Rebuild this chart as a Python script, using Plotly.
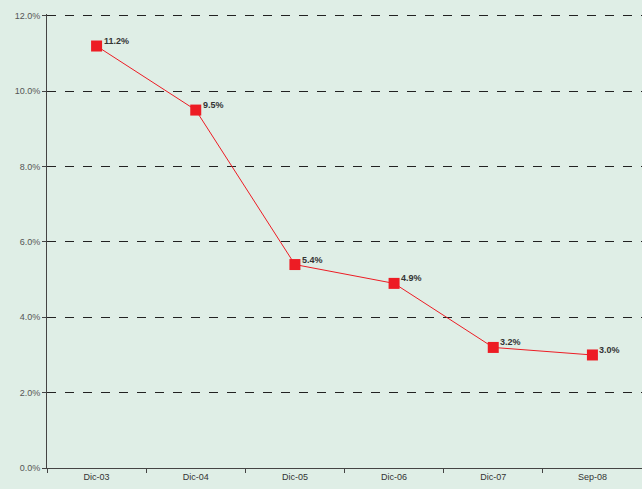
import plotly.graph_objects as go

categories = ["Dic-03", "Dic-04", "Dic-05", "Dic-06", "Dic-07", "Sep-08"]
values = [11.2, 9.5, 5.4, 4.9, 3.2, 3.0]
labels = ["11.2%", "9.5%", "5.4%", "4.9%", "3.2%", "3.0%"]
y_ticks = [0, 2, 4, 6, 8, 10, 12]
y_tick_labels = ["0.0%", "2.0%", "4.0%", "6.0%", "8.0%", "10.0%", "12.0%"]

bg = "#DFEEE6"
font_fam = "Liberation Sans Narrow, Arial Narrow, Liberation Sans, Arial"
fig = go.Figure()
fig.add_trace(go.Scatter(
    x=categories, y=values, mode="lines+markers",
    line=dict(color="#ED1C24", width=1),
    marker=dict(symbol="square", size=11, color="#ED1C24"),
    cliponaxis=False, showlegend=False, hoverinfo="skip",
))
for c, v, t in zip(categories, values, labels):
    fig.add_annotation(x=c, y=v, text="<b>" + t + "</b>", showarrow=False,
                       xanchor="left", yanchor="middle", xshift=5, yshift=5,
                       font=dict(family=font_fam, size=9, color="#333333"))
fig.update_layout(
    width=642, height=489,
    margin=dict(l=47, r=0, t=14, b=21),
    paper_bgcolor=bg, plot_bgcolor=bg,
    font=dict(family=font_fam, size=9, color="#444444"),
)
fig.update_xaxes(
    type="category", range=[-0.5, 5.5], showgrid=False,
    showline=True, linecolor="#444444", linewidth=1,
    ticks="outside", tickson="boundaries", ticklen=4, tickcolor="#444444",
    tickfont=dict(size=9, color="#333333"), zeroline=False,
)
fig.update_yaxes(
    range=[0, 12.05], tickvals=y_ticks, ticktext=y_tick_labels,
    showgrid=True, gridcolor="#222222", griddash="dash", gridwidth=1,
    showline=True, linecolor="#444444", linewidth=1,
    ticks="outside", ticklen=4, tickcolor="#444444",
    tickfont=dict(size=9, color="#555555"), zeroline=False,
)
fig.write_html("out.html", config={"displayModeBar": False},
               post_script="document.body.style.margin='0';document.body.style.background='%s';" % bg)
